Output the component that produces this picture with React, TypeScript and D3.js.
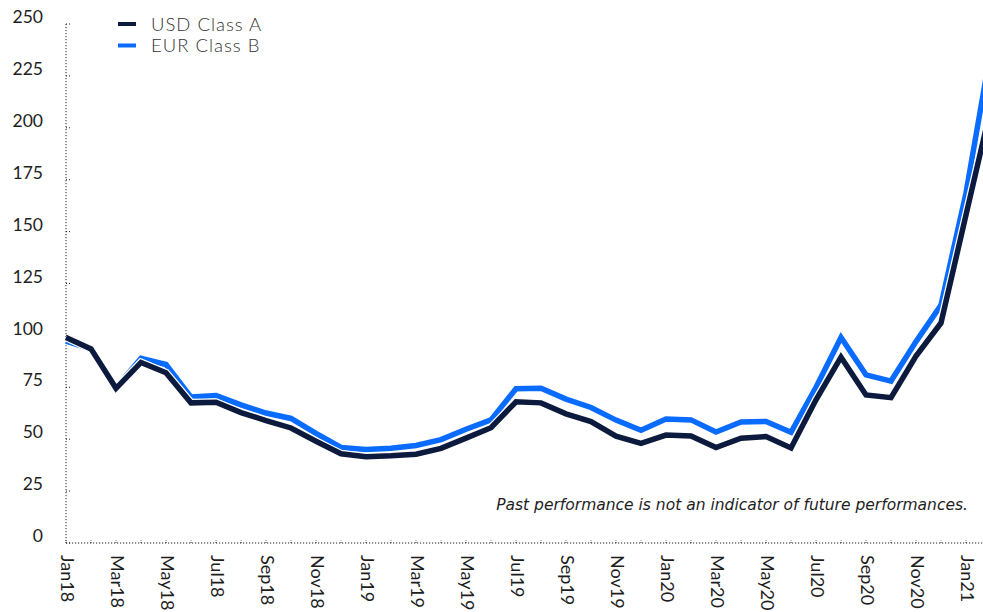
import React from "react";
import * as d3 from "d3";

const months = [
  "Jan18","Feb18","Mar18","Apr18","May18","Jun18","Jul18","Aug18","Sep18","Oct18","Nov18","Dec18",
  "Jan19","Feb19","Mar19","Apr19","May19","Jun19","Jul19","Aug19","Sep19","Oct19","Nov19","Dec19",
  "Jan20","Feb20","Mar20","Apr20","May20","Jun20","Jul20","Aug20","Sep20","Oct20","Nov20","Dec20",
  "Jan21","Feb21",
];
const usdClassA = [
  99, 93.5, 74.5, 87, 82, 67.5, 67.8, 62.8, 59, 55.4, 49, 43,
  41.5, 42, 42.8, 45.6, 50.5, 55.5, 68, 67.5, 62.2, 58.5, 51.5, 48,
  52, 51.5, 46, 50.5, 51.3, 45.8, 69, 89.5, 71.3, 70, 90, 106,
  158, 210,
];
const eurClassB = [
  97.3, 93.5, 74.8, 89, 86, 70.3, 71, 66.5, 62.6, 60, 52.8, 46,
  45, 45.6, 47, 49.8, 54.8, 59.3, 74.3, 74.5, 69.3, 65.3, 59.2, 54.3,
  59.7, 59.3, 53.5, 58.3, 58.5, 53.3, 75, 99, 81, 78, 97, 114.6,
  168.6, 238,
];
const xLabels = ["Jan18","Mar18","May18","Jul18","Sep18","Nov18","Jan19","Mar19","May19","Jul19","Sep19","Nov19","Jan20","Mar20","May20","Jul20","Sep20","Nov20","Jan21"];
const yTicks = [0, 25, 50, 75, 100, 125, 150, 175, 200, 225, 250];
const seriesNames = ["USD Class A", "EUR Class B"];
const seriesColors = ["#0b1a3d", "#0a6cff"];
const note = "Past performance is not an indicator of future performances.";

const W = 983;
const H = 612;
const FONT = "Lato, 'Noto Sans', sans-serif";

export default function App() {
  const x = d3.scalePoint<string>().domain(months).range([66, 66 + 25 * (months.length - 1)]);
  const y = d3.scaleLinear().domain([0, 250]).range([543, 24]);
  const line = d3
    .line<number>()
    .x((_, i) => x(months[i]) as number)
    .y((d) => y(d))
    .curve(d3.curveLinear);

  const series = [
    { name: seriesNames[1], values: eurClassB, color: seriesColors[1] },
    { name: seriesNames[0], values: usdClassA, color: seriesColors[0] },
  ];

  return (
    <svg
      width={W}
      height={H}
      style={{ position: "absolute", left: 0, top: 0, background: "#fff", display: "block" }}
    >
      {/* y axis */}
      <line x1={66} x2={66} y1={y(250)} y2={y(0)} stroke="#222" strokeWidth={1} strokeDasharray="1.2,1.8" />
      {yTicks.map((t) => (
        <g key={t}>
          <line x1={66} x2={70} y1={y(t)} y2={y(t)} stroke="#222" strokeWidth={1} strokeDasharray="1,2" />
          <text
            x={43}
            y={y(t)}
            dy="-0.05em"
            textAnchor="end"
            fontFamily={FONT}
            fontSize={17.5}
            fill="#1e1e1e"
          >
            {t}
          </text>
        </g>
      ))}
      {/* x axis */}
      <line x1={66} x2={W} y1={y(0)} y2={y(0)} stroke="#222" strokeWidth={1} strokeDasharray="1.2,1.8" />
      {months.map((m) => (
        <line
          key={m}
          x1={x(m) as number}
          x2={x(m) as number}
          y1={y(0)}
          y2={y(0) - 3}
          stroke="#222"
          strokeWidth={1}
          strokeDasharray="1,1.5"
        />
      ))}
      {xLabels.map((m) => (
        <text
          key={m}
          transform={`translate(${(x(m) as number) - 5},${y(0) + 12}) rotate(90)`}
          textAnchor="start"
          fontFamily={FONT}
          fontSize={18}
          fill="#1e1e1e"
        >
          {m}
        </text>
      ))}
      {/* lines */}
      {series.map((s) => (
        <g key={s.name}>
          <path d={line(s.values) || ""} fill="none" stroke="#fff" strokeWidth={8} strokeLinejoin="miter" />
          <path d={line(s.values) || ""} fill="none" stroke={s.color} strokeWidth={5.5} strokeLinejoin="miter" />
        </g>
      ))}
      {/* legend */}
      {seriesNames.map((n, i) => (
        <g key={n} transform={`translate(118,${24 + i * 21.5})`}>
          <line x1={0} x2={18} y1={0} y2={0} stroke={seriesColors[i]} strokeWidth={4} />
          <text
            x={33}
            y={0}
            dy="0.36em"
            fontFamily={FONT}
            fontSize={18.5}
            fontWeight={300}
            letterSpacing={1}
            fill="#333"
          >
            {n}
          </text>
        </g>
      ))}
      {/* note */}
      <text
        x={968}
        y={510}
        textAnchor="end"
        fontFamily="'DejaVu Sans', sans-serif"
        fontStyle="italic"
        fontSize={15.5}
        fill="#1e1e1e"
      >
        {note}
      </text>
    </svg>
  );
}
